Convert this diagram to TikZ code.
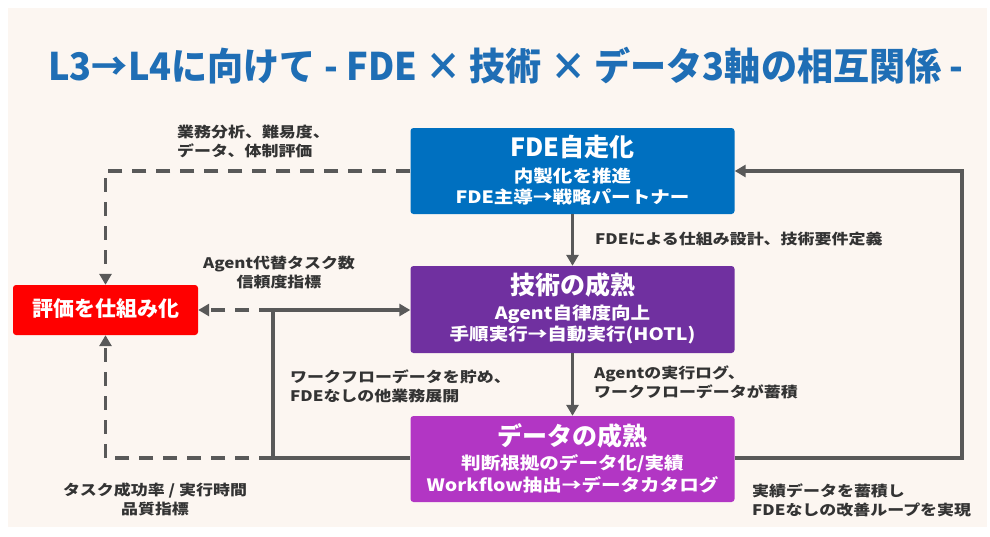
\documentclass[tikz,border=0pt]{standalone}
\usepackage{fontspec}
\setmainfont{Noto Sans CJK JP}
\newfontfamily\lblfont{Noto Sans CJK JP}[FakeStretch=1.17]
\newfontfamily\subfont{Noto Sans CJK JP}[FakeStretch=1.15]
\newfontfamily\ttlfont{Noto Sans CJK JP}[FakeStretch=0.95]
\usetikzlibrary{arrows.meta}
\definecolor{bgc}{HTML}{FCF6F1}
\definecolor{titleblue}{HTML}{1F6EB5}
\definecolor{fdeblue}{HTML}{0070C0}
\definecolor{techpurple}{HTML}{7030A0}
\definecolor{datamag}{HTML}{B236C4}
\definecolor{evalred}{HTML}{FF0000}
\definecolor{lineg}{HTML}{595959}
\definecolor{labc}{HTML}{333333}
\begin{document}
\begin{tikzpicture}[x=1pt,y=-1pt,
  box/.style={rectangle, rounded corners=3pt, minimum width=324pt, minimum height=86pt, inner sep=0pt},
  btitle/.style={font=\fontsize{25}{27}\selectfont\bfseries, text=white, inner sep=0pt},
  bsub/.style={font=\subfont\fontsize{17}{19}\selectfont\bfseries, text=white, inner sep=0pt},
  lab/.style={font=\lblfont\fontsize{14.5}{19}\selectfont\bfseries, text=labc, inner sep=0pt},
  conn/.style={draw=lineg, line width=3.5pt},
  arr/.style={-{Triangle[length=11pt,width=12pt]}},
  dsh/.style={dash pattern=on 14pt off 10pt}]
\useasboundingbox (0,0) rectangle (990,536);
\fill[white] (0,0) rectangle (990,536);
\fill[bgc] (8,8) rectangle (987,527);

\node[font=\ttlfont\fontsize{38}{38}\selectfont\bfseries, text=titleblue, inner sep=0pt] (title) at (506,66) {L3→L4に向けて - FDE × 技術 × データ3軸の相互関係 -};

% boxes
\node[box, fill=fdeblue] (fde) at (572.5,171) {};
\node[box, fill=techpurple, minimum height=87pt] (tech) at (572.5,309.5) {};
\node[box, fill=datamag] (data) at (572.5,459) {};
\node[rectangle, rounded corners=3pt, minimum width=185pt, minimum height=50pt, inner sep=0pt, fill=evalred] (eval) at (105.5,310) {};

\node[btitle] (fdet) at (572.5,147) {FDE自走化};
\node[bsub] (fdes1) at (572.5,176) {内製化を推進};
\node[bsub] (fdes2) at (572.5,197) {FDE主導→戦略パートナー};

\node[btitle] (techt) at (572.5,285) {技術の成熟};
\node[bsub] (techs1) at (572.5,314) {Agent自律度向上};
\node[bsub] (techs2) at (572.5,335) {手順実行→自動実行(HOTL)};

\node[btitle] (datat) at (572.5,436) {データの成熟};
\node[bsub] (datas1) at (572.5,464) {判断根拠のデータ化/実績};
\node[bsub] (datas2) at (572.5,485) {Workflow抽出→データカタログ};

\node[font=\fontsize{21}{23}\selectfont\bfseries, text=white, inner sep=0pt] (evalt) at (105.5,309) {評価を仕組み化};

% connectors
\coordinate (rt) at (962,171);
\coordinate (j1) at (273,310);
\coordinate (j2) at (273,458);
\draw[conn,arr] (fde.south) -- (tech.north);
\draw[conn,arr] (tech.south) -- (data.north);
\draw[conn,arr,line join=miter] (data.east |- j2) -| (rt) -- (fde.east);
\draw[conn,dsh,arr] (fde.west) -| (eval.north);
\draw[conn,arr] (j1) -- (tech.west |- j1);
\draw[conn,dsh,arr] (j1) -- (eval.east);
\draw[conn,line join=miter] (data.west |- j2) -- (j2) -- (j1);
\draw[conn,dsh,arr] (j2) -| (eval.south);

% labels
\node[lab, anchor=west, align=left] (l1) at (177,141) {業務分析、難易度、\\データ、体制評価};
\node[lab, align=center] (l2) at (279,272.5) {Agent代替タスク数\\信頼度指標};
\node[lab, anchor=west] (l3) at (595,239) {FDEによる仕組み設計、技術要件定義};
\node[lab, anchor=west, align=left] (l4) at (290,386) {ワークフローデータを貯め、\\FDEなしの他業務展開};
\node[lab, anchor=west, align=left] (l5) at (594,382) {Agentの実行ログ、\\ワークフローデータが蓄積};
\node[lab, align=center] (l6) at (155,499) {タスク成功率 / 実行時間\\品質指標};
\node[lab, anchor=west, align=left] (l7) at (752,500) {実績データを蓄積し\\FDEなしの改善ループを実現};
\end{tikzpicture}
\end{document}
